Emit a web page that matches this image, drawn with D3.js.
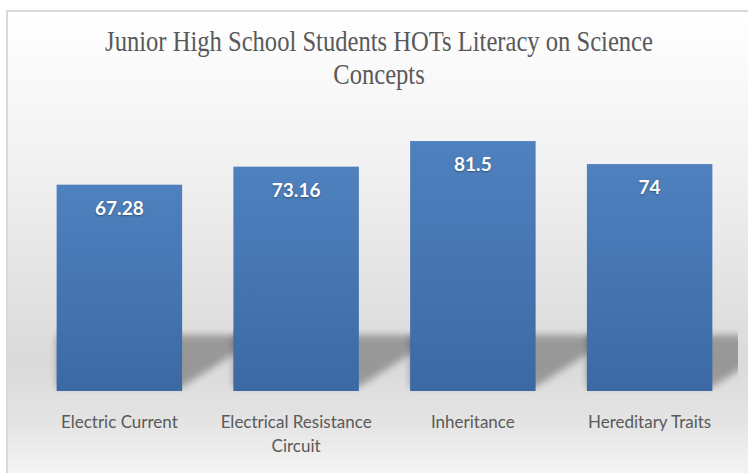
<!DOCTYPE html>
<html>
<head>
<meta charset="utf-8">
<script src="https://cdn.jsdelivr.net/npm/d3@7"></script>
<style>
  body { margin: 0; background: #fff; }
  svg { display: block; }
</style>
</head>
<body>
<div class="canva"></div>
<script>
const categories = ["Electric Current", "Electrical Resistance Circuit", "Inheritance", "Hereditary Traits"];
const values = [67.28, 73.16, 81.5, 74];
const valueLabels = ["67.28", "73.16", "81.5", "74"];
const titleLines = ["Junior High School Students HOTs Literacy on Science", "Concepts"];

const width = 748, height = 473;

const svg = d3.select(".canva").append("svg")
    .attr("width", width)
    .attr("height", height);

const defs = svg.append("defs");

// chart background, white -> grey floor -> white
const bg = defs.append("linearGradient")
    .attr("id", "bg").attr("x1", 0).attr("y1", 0).attr("x2", 0).attr("y2", 1);
bg.append("stop").attr("offset", "0%").attr("stop-color", "#ffffff");
bg.append("stop").attr("offset", "32%").attr("stop-color", "#f1f1f1");
bg.append("stop").attr("offset", "72%").attr("stop-color", "#dadada");
bg.append("stop").attr("offset", "84%").attr("stop-color", "#e4e4e4");
bg.append("stop").attr("offset", "100%").attr("stop-color", "#fdfdfd");

const barGrad = defs.append("linearGradient")
    .attr("id", "barGrad").attr("x1", 0).attr("y1", 0).attr("x2", 0).attr("y2", 1);
barGrad.append("stop").attr("offset", "0%").attr("stop-color", "#4f81bf");
barGrad.append("stop").attr("offset", "100%").attr("stop-color", "#3c69a4");

defs.append("filter").attr("id", "blur")
    .attr("x", "-50%").attr("y", "-50%").attr("width", "200%").attr("height", "200%")
    .append("feGaussianBlur").attr("stdDeviation", 3.5);

defs.append("clipPath").attr("id", "plotClip")
    .append("rect").attr("x", 20).attr("y", 100).attr("width", 718).attr("height", 300);

// frame
svg.append("rect")
    .attr("x", 7).attr("y", 11)
    .attr("width", 770).attr("height", 490)
    .attr("fill", "url(#bg)")
    .attr("stroke", "#d9d9d9")
    .attr("stroke-width", 2);

const x = d3.scaleBand()
    .domain(categories)
    .range([31, 738])
    .paddingInner(0.29)
    .paddingOuter(0.145);

const y = d3.scaleLinear()
    .domain([0, 90])
    .range([391, 115]);

// perspective shadows behind the bars
svg.append("g")
    .attr("clip-path", "url(#plotClip)")
    .selectAll("path")
    .data(categories)
    .join("path")
    .attr("d", d => {
        const x0 = x(d), x1 = x(d) + x.bandwidth(), b = y(0);
        return `M${x0},${b - 4}L${x1},${b - 4}L${x1 + 75},${b - 52}L${x1 + 75},${b - 56}L${x0},${b - 56}Z`;
    })
    .attr("fill", "#000")
    .attr("opacity", 0.3)
    .attr("filter", "url(#blur)");

svg.append("g")
    .selectAll("rect")
    .data(values)
    .join("rect")
    .attr("x", (d, i) => x(categories[i]))
    .attr("y", d => y(d))
    .attr("width", x.bandwidth())
    .attr("height", d => y(0) - y(d))
    .attr("fill", "url(#barGrad)");

svg.append("g")
    .selectAll("text")
    .data(values)
    .join("text")
    .attr("x", (d, i) => x(categories[i]) + x.bandwidth() / 2)
    .attr("y", d => y(d) + 30)
    .attr("text-anchor", "middle")
    .attr("font-family", "Lato, 'Open Sans', sans-serif")
    .attr("font-weight", "bold")
    .attr("font-size", 19)
    .attr("fill", "#ffffff")
    .style("text-shadow", "0 1px 2px rgba(0,0,0,0.35)")
    .text((d, i) => valueLabels[i]);

// category axis labels, wrapped
const labelG = svg.append("g");
categories.forEach(c => {
    const cx = x(c) + x.bandwidth() / 2;
    const t = labelG.append("text")
        .attr("x", cx)
        .attr("y", 428)
        .attr("text-anchor", "middle")
        .attr("font-family", "Lato, 'Open Sans', sans-serif")
        .attr("font-size", 17)
        .attr("fill", "#595959");
    let line = [];
    let tspan = t.append("tspan").attr("x", cx).attr("dy", 0);
    c.split(" ").forEach(w => {
        line.push(w);
        tspan.text(line.join(" "));
        if (tspan.node().getComputedTextLength() > 168 && line.length > 1) {
            line.pop();
            tspan.text(line.join(" "));
            line = [w];
            tspan = t.append("tspan").attr("x", cx).attr("dy", 24).text(w);
        }
    });
});

// title, condensed serif
const titleG = svg.append("g").attr("transform", "translate(379,0)");
const tt = titleG.selectAll("text")
    .data(titleLines)
    .join("text")
    .attr("x", 0)
    .attr("y", (d, i) => 51 + i * 33)
    .attr("text-anchor", "middle")
    .attr("font-family", "'Liberation Serif', 'Times New Roman', serif")
    .attr("font-size", 29)
    .attr("fill", "#595959")
    .text(d => d);
const w0 = tt.nodes()[0].getComputedTextLength();
tt.attr("transform", `scale(${548 / w0},1)`);
</script>
</body>
</html>
